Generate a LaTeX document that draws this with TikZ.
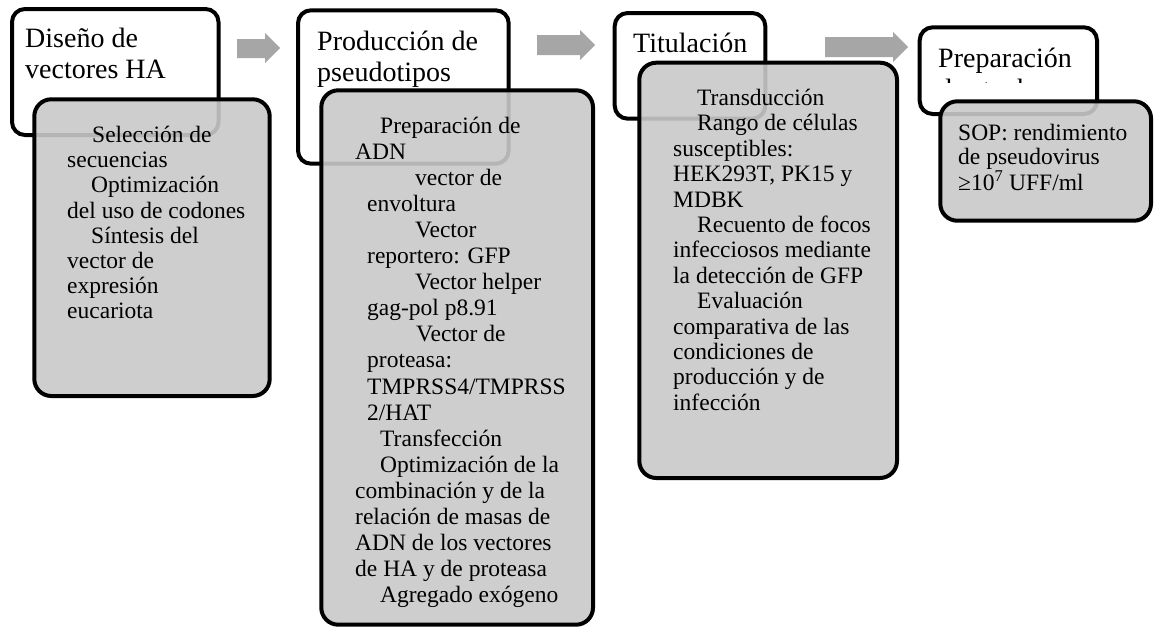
\documentclass[tikz,border=0pt]{standalone}
\usepackage{fontspec}
\setmainfont{Liberation Serif}
\usepackage{tikz}
\colorlet{step fill}{black!21}
\colorlet{arrow fill}{black!35}
\tikzset{headbox/.style={draw, fill=white, line width=4pt, rounded corners=13pt}}
\tikzset{detailbox/.style={draw, fill=step fill, fill opacity=0.9, line width=4pt, rounded corners=17pt}}
\tikzset{blockarrow/.style={fill=arrow fill}}
\tikzset{headtext/.style={anchor=north west, inner sep=0pt, align=left, font=\fontsize{28}{31}\selectfont}}
\tikzset{detailtext/.style={anchor=north west, inner sep=0pt, align=left}}

\begin{document}
\begin{tikzpicture}[x=1pt, y=-1pt]
    \useasboundingbox (0, 0) rectangle (1154, 627);
    % arrows between the steps
    \fill[blockarrow] (237, 39) -- (265, 39) -- (265, 33) -- (280, 48) -- (265, 63) -- (265, 58) -- (237, 58) -- cycle;
    \fill[blockarrow] (537, 35) -- (580, 35) -- (580, 30) -- (595, 45) -- (580, 60) -- (580, 55) -- (537, 55) -- cycle;
    \fill[blockarrow] (825, 37) -- (893, 37) -- (893, 32) -- (908, 47) -- (893, 62) -- (893, 57) -- (825, 57) -- cycle;
    % step 1
    \draw[headbox] (12, 9) rectangle (218.5, 135);
    \node[headtext] (design) at (25, 27.9) {Diseño de\\vectores HA};
    \draw[detailbox] (34.3, 99.3) rectangle (269.7, 396);
    \node[detailtext, font=\fontsize{23.5}{25.2}\selectfont] (designsteps) at (67, 126) {%
        \hspace*{25pt}Selección de\\
        secuencias\\
        \hspace*{24pt}Optimización\\
        del uso de codones\\
        \hspace*{24pt}Síntesis del\\
        vector de\\
        expresión\\
        eucariota};
    % step 2
    \draw[headbox] (298, 10.3) rectangle (508.7, 163.7);
    \node[headtext] (production) at (317, 30.9) {Producción de\\pseudotipos};
    \draw[detailbox] (321.3, 90.3) rectangle (593, 624.7);
    \node[detailtext, font=\fontsize{23.5}{26.05}\selectfont] (productionsteps) at (355, 117) {%
        \hspace*{25pt}Preparación de\\
        ADN\\
        \hspace*{60pt}vector de\\
        \hspace*{12pt}envoltura\\
        \hspace*{60pt}Vector\\
        \hspace*{12pt}reportero: GFP\\
        \hspace*{60pt}Vector helper\\
        \hspace*{12pt}gag-pol p8.91\\
        \hspace*{61pt}Vector de\\
        \hspace*{12pt}proteasa:\\
        \hspace*{12pt}TMPRSS4/TMPRSS\\
        \hspace*{12pt}2/HAT\\
        \hspace*{25pt}Transfección\\
        \hspace*{25pt}Optimización de la\\
        combinación y de la\\
        relación de masas de\\
        ADN de los vectores\\
        de HA y de proteasa\\
        \hspace*{25pt}Agregado exógeno};
    % step 3
    \draw[headbox] (614.7, 13) rectangle (765.3, 118.7);
    \node[headtext] (titration) at (633, 32.9) {Titulación};
    \draw[detailbox] (639.3, 62.7) rectangle (897, 478);
    \node[detailtext, font=\fontsize{23.5}{25.4}\selectfont] (titrationsteps) at (673, 89) {%
        \hspace*{24pt}Transducción\\
        \hspace*{24pt}Rango de células\\
        susceptibles:\\
        HEK293T, PK15 y\\
        MDBK\\
        \hspace*{24pt}Recuento de focos\\
        infecciosos mediante\\
        la detección de GFP\\
        \hspace*{24pt}Evaluación\\
        comparativa de las\\
        condiciones de\\
        producción y de\\
        infección};
    % step 4
    \draw[headbox] (919.7, 27.3) rectangle (1097, 114);
    \begin{scope}
        \clip (919.7, 27.3) rectangle (1097, 82);
        \node[headtext] (stock) at (938, 47.6) {Preparación\\de stock};
    \end{scope}
    \draw[detailbox] (940.3, 101.3) rectangle (1151, 220.7);
    \node[detailtext, font=\fontsize{23.5}{24}\selectfont] (stocksteps) at (958, 124) {%
        SOP: rendimiento\\
        de pseudovirus\\
        ≥10\textsuperscript{7} UFF/ml};
\end{tikzpicture}
\end{document}
